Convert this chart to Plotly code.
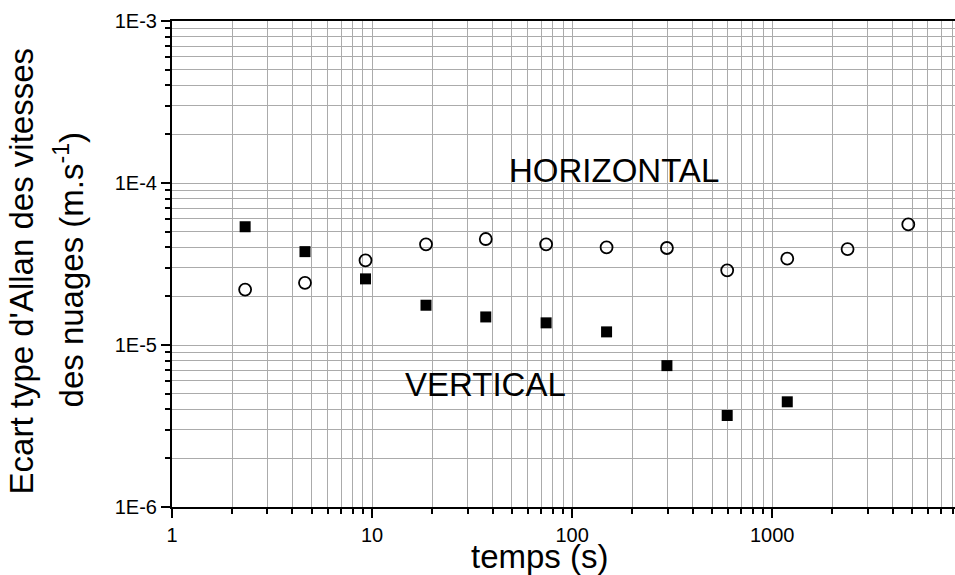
import plotly.graph_objects as go

# Temps d'integration (s)
tau_vertical = [2.32, 4.62, 9.27, 18.6, 37.0, 74.1, 148.6, 297.6, 595.6, 1189]
tau_horizontal = [2.32, 4.62, 9.27, 18.6, 37.0, 74.1, 148.6, 297.6, 595.6, 1189, 2380, 4786]

# Ecart type d'Allan (m/s)
sigma_vertical = [5.37e-5, 3.77e-5, 2.56e-5, 1.76e-5, 1.49e-5, 1.37e-5,
                  1.205e-5, 7.46e-6, 3.67e-6, 4.46e-6]
sigma_horizontal = [2.20e-5, 2.42e-5, 3.33e-5, 4.18e-5, 4.51e-5, 4.18e-5,
                    4.01e-5, 3.97e-5, 2.89e-5, 3.41e-5, 3.91e-5, 5.55e-5]

x_tickvals = [1, 10, 100, 1000]
x_ticktext = ["1", "10", "100", "1000"]
y_tickvals = [1e-6, 1e-5, 1e-4, 1e-3]
y_ticktext = ["1E-6", "1E-5", "1E-4", "1E-3"]

FONT = "Arial, Liberation Sans, sans-serif"
GRID = "#ababab"

fig = go.Figure()

fig.add_trace(go.Scatter(
    x=tau_vertical, y=sigma_vertical, mode="markers", name="VERTICAL",
    marker=dict(symbol="square", size=11, color="black", line=dict(width=0)),
))
fig.add_trace(go.Scatter(
    x=tau_horizontal, y=sigma_horizontal, mode="markers", name="HORIZONTAL",
    marker=dict(symbol="circle-open", size=12, color="black", line=dict(width=1.8)),
))

axis_common = dict(
    type="log",
    showline=True, linecolor="black", linewidth=2,
    ticks="outside", ticklen=9, tickwidth=2, tickcolor="black",
    showgrid=True, gridcolor=GRID, gridwidth=1,
    zeroline=False,
    tickfont=dict(family=FONT, size=20, color="black"),
    minor=dict(dtick="D1", ticks="outside", ticklen=5, tickwidth=2,
               tickcolor="black", showgrid=True, gridcolor=GRID, gridwidth=1),
)

fig.update_xaxes(axis_common, range=[0, 3.9135], mirror=True,
                 tickvals=x_tickvals, ticktext=x_ticktext)
fig.update_yaxes(axis_common, range=[-6, -3], mirror=False,
                 tickvals=y_tickvals, ticktext=y_ticktext)

# Axis titles and labels
fig.add_annotation(text="temps (s)", xref="paper", yref="paper", x=0.47, y=-0.102,
                   xanchor="center", yanchor="middle", showarrow=False,
                   font=dict(family=FONT, size=33, color="black"))
fig.add_annotation(text="Ecart type d'Allan des vitesses", xref="paper", yref="paper",
                   x=-0.192, y=0.486, textangle=-90, xanchor="center", yanchor="middle",
                   showarrow=False, font=dict(family=FONT, size=33, color="black"))
fig.add_annotation(text="des nuages (m.s<sup>-1</sup>)", xref="paper", yref="paper",
                   x=-0.132, y=0.488, textangle=-90, xanchor="center", yanchor="middle",
                   showarrow=False, font=dict(family=FONT, size=33, color="black"))
fig.add_annotation(text="HORIZONTAL", xref="paper", yref="paper", x=0.5645, y=0.692,
                   xanchor="center", yanchor="middle", showarrow=False,
                   font=dict(family=FONT, size=33, color="black"))
fig.add_annotation(text="VERTICAL", xref="paper", yref="paper", x=0.401, y=0.252,
                   xanchor="center", yanchor="middle", showarrow=False,
                   font=dict(family=FONT, size=33, color="black"))

fig.update_layout(
    width=955, height=575,
    margin=dict(l=172, r=0, t=21, b=68),
    plot_bgcolor="white", paper_bgcolor="white",
    showlegend=False,
    font=dict(family=FONT, color="black"),
)

# remove the default page margin so the figure sits at the window's corner
fig.write_html("out.html", config={"displayModeBar": False},
               post_script="document.body.style.margin='0';")
